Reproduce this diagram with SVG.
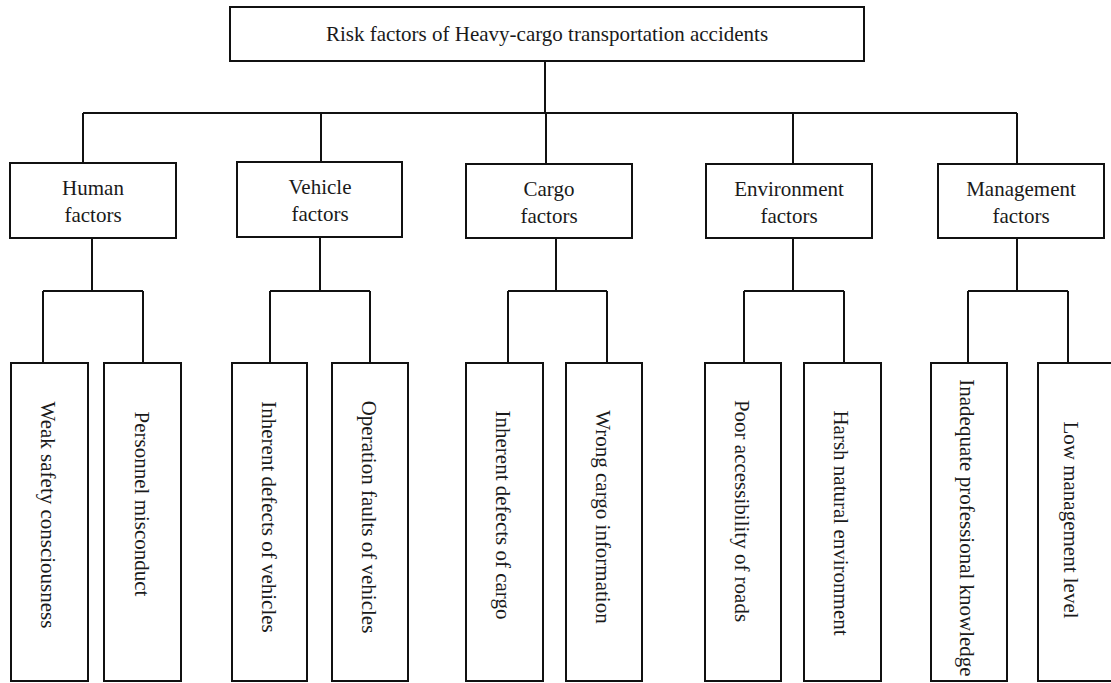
<svg xmlns="http://www.w3.org/2000/svg" width="1111" height="683" viewBox="0 0 1111 683">
<style>
.b{fill:#fff;stroke:#111;stroke-width:2}
.c{stroke:#111;stroke-width:2;fill:none}
text{font-family:"Liberation Serif","Times New Roman",serif;font-size:21px;fill:#1a1a1a;text-anchor:middle}
</style>
<rect width="1111" height="683" fill="#fff"/>
<g id="connectors">
<path class="c" d="M545 61V113M83 113H1017M83 113V163M321 113V162M546 113V164M793 113V164M1017 113V164"/>
<path class="c" d="M92 238V291M43 291H143M43 291V363M143 291V363"/>
<path class="c" d="M320 237V291M270 291H370M270 291V363M370 291V363"/>
<path class="c" d="M556 238V291M508 291H607M508 291V363M607 291V363"/>
<path class="c" d="M793 238V291M744 291H844M744 291V363M844 291V363"/>
<path class="c" d="M1017 238V291M968 291H1068M968 291V363M1068 291V363"/>
</g>
<g id="root"><rect class="b" x="230" y="7" width="634" height="54"/><text x="547" y="41">Risk factors of Heavy-cargo transportation accidents</text></g>
<g id="human"><rect class="b" x="10" y="163" width="166" height="75"/><text x="93" y="195">Human</text><text x="93" y="222">factors</text></g>
<g id="vehicle"><rect class="b" x="237" y="162" width="165" height="75"/><text x="320" y="194">Vehicle</text><text x="320" y="221">factors</text></g>
<g id="cargo"><rect class="b" x="466" y="164" width="166" height="74"/><text x="549" y="196">Cargo</text><text x="549" y="223">factors</text></g>
<g id="environment"><rect class="b" x="706" y="164" width="166" height="74"/><text x="789" y="196">Environment</text><text x="789" y="223">factors</text></g>
<g id="management"><rect class="b" x="938" y="164" width="166" height="74"/><text x="1021" y="196">Management</text><text x="1021" y="223">factors</text></g>
<g id="leaf1"><rect class="b" x="11" y="363" width="77" height="318"/><text transform="translate(48,515) rotate(90)" dy="0.35em">Weak safety consciousness</text></g>
<g id="leaf2"><rect class="b" x="104" y="363" width="77" height="318"/><text transform="translate(142,504) rotate(90)" dy="0.35em">Personnel misconduct</text></g>
<g id="leaf3"><rect class="b" x="232" y="363" width="75" height="318"/><text transform="translate(269,517) rotate(90)" dy="0.35em">Inherent defects of vehicles</text></g>
<g id="leaf4"><rect class="b" x="332" y="363" width="76" height="318"/><text transform="translate(369,517) rotate(90)" dy="0.35em">Operation faults of vehicles</text></g>
<g id="leaf5"><rect class="b" x="466" y="363" width="77" height="318"/><text transform="translate(503,515) rotate(90)" dy="0.35em">Inherent defects of cargo</text></g>
<g id="leaf6"><rect class="b" x="566" y="363" width="76" height="318"/><text transform="translate(603,517) rotate(90)" dy="0.35em">Wrong cargo information</text></g>
<g id="leaf7"><rect class="b" x="705" y="363" width="76" height="318"/><text transform="translate(742,511) rotate(90)" dy="0.35em">Poor accessibility of roads</text></g>
<g id="leaf8"><rect class="b" x="804" y="363" width="77" height="318"/><text transform="translate(841,523) rotate(90)" dy="0.35em">Harsh natural environment</text></g>
<g id="leaf9"><rect class="b" x="931" y="363" width="76" height="318"/><text transform="translate(967,528) rotate(90)" dy="0.35em">Inadequate professional knowledge</text></g>
<g id="leaf10"><rect class="b" x="1038" y="363" width="76" height="318"/><text transform="translate(1071,520) rotate(90)" dy="0.35em">Low management level</text></g>
</svg>
